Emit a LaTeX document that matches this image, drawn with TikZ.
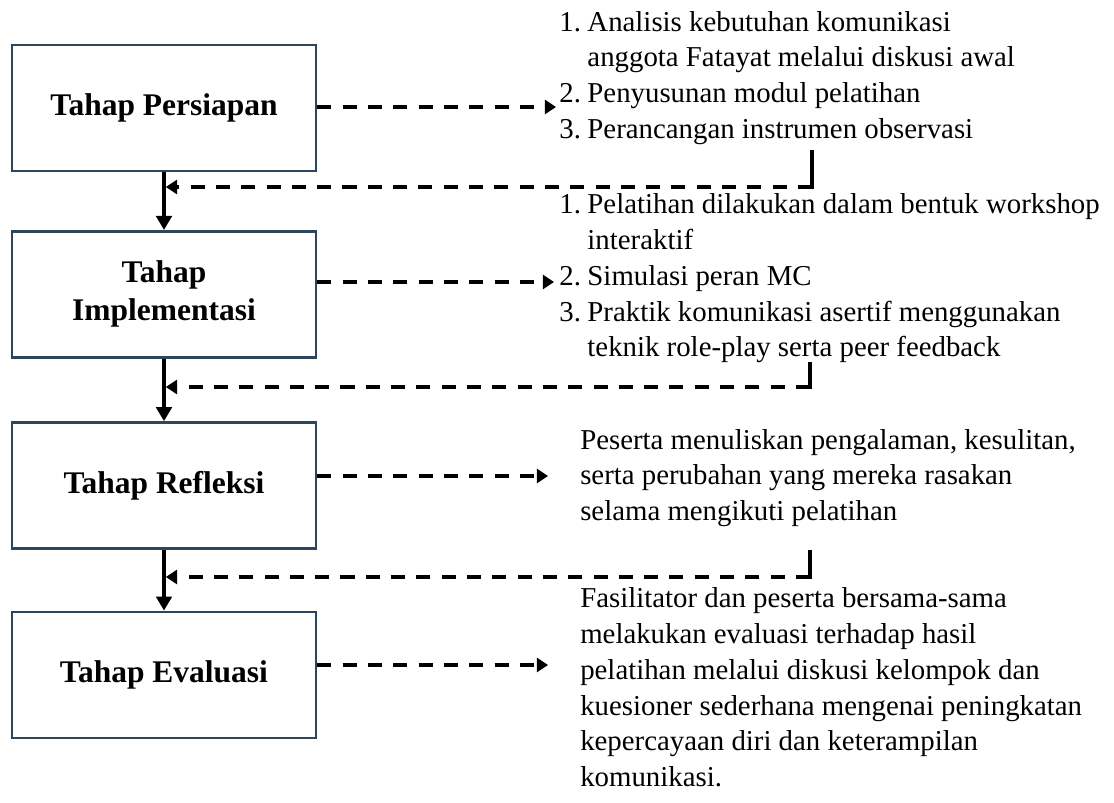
\documentclass[tikz,border=0pt]{standalone}
\usepackage{fontspec}
\setmainfont{Liberation Serif}
\usetikzlibrary{arrows.meta}
\definecolor{boxblue}{RGB}{44,70,94}

\begin{document}
\begin{tikzpicture}[
  tahap/.style={draw=boxblue, line width=2pt, fill=white, minimum width=7.6cm, minimum height=3.15cm, align=center, font=\fontsize{22.4}{27}\selectfont\bfseries},
  isi/.style={inner sep=0pt, anchor=base west, font=\fontsize{20.5}{25.4}\selectfont},
  alur/.style={line width=2.6pt, -{Triangle[width=11pt,length=10pt]}},
  putus/.style={line width=2.6pt, dash pattern=on 10pt off 8pt, -{Triangle[width=10pt,length=8pt]}},
]
\useasboundingbox (0,0) rectangle (27.85,-20.075);
% tahap
\node[tahap] (b1) at (4.1,-2.7) {Tahap Persiapan};
\node[tahap] (b2) at (4.1,-7.36) {Tahap\\Implementasi};
\node[tahap] (b3) at (4.1,-12.14) {Tahap Refleksi};
\node[tahap] (b4) at (4.1,-16.875) {Tahap Evaluasi};
% isi kegiatan
\node[isi] (t1) at (13.98,-0.78) {\begin{tabular}[t]{@{}p{0.7cm}@{}l@{}}
1. & Analisis kebutuhan komunikasi\\
   & anggota Fatayat melalui diskusi awal\\
2. & Penyusunan modul pelatihan\\
3. & Perancangan instrumen observasi
\end{tabular}};
\node[isi] (t2) at (13.98,-5.35) {\begin{tabular}[t]{@{}p{0.7cm}@{}l@{}}
1. & Pelatihan dilakukan dalam bentuk workshop\\
   & interaktif\\
2. & Simulasi peran MC\\
3. & Praktik komunikasi asertif menggunakan\\
   & teknik role-play serta peer feedback
\end{tabular}};
\node[isi] (t3) at (14.5,-11.23) {\begin{tabular}[t]{@{}l@{}}
Peserta menuliskan pengalaman, kesulitan,\\
serta perubahan yang mereka rasakan\\
selama mengikuti pelatihan
\end{tabular}};
\node[isi] (t4) at (14.5,-15.2) {\begin{tabular}[t]{@{}l@{}}
Fasilitator dan peserta bersama-sama\\
melakukan evaluasi terhadap hasil\\
pelatihan melalui diskusi kelompok dan\\
kuesioner sederhana mengenai peningkatan\\
kepercayaan diri dan keterampilan\\
komunikasi.
\end{tabular}};
% ujung panah
\coordinate (e1) at (13.9,-2.675);
\coordinate (e2) at (13.85,-7.05);
\coordinate (e3) at (13.7,-11.9);
\coordinate (e4) at (13.7,-16.625);
\coordinate (r1) at (20.3,-3.8);
\coordinate (k1) at (20.3,-4.675);
\coordinate (r2) at (20.25,-9.1);
\coordinate (k2) at (20.25,-9.675);
\coordinate (r3) at (20.25,-13.8);
\coordinate (k3) at (20.25,-14.425);
% alur utama
\draw[alur] (b1.south) -- (b2.north);
\draw[alur] (b2.south) -- (b3.north);
\draw[alur] (b3.south) -- (b4.north);
% ke kegiatan
\draw[putus] (b1.east |- e1) -- (e1);
\draw[putus] (b2.east |- e2) -- (e2);
\draw[putus] (b3.east |- e3) -- (e3);
\draw[putus] (b4.east |- e4) -- (e4);
% umpan balik
\draw[line width=2.6pt, line cap=rect] (r1) -- (k1);
\draw[putus, shorten >=1.3pt] (k1) -- (k1 -| b1.south);
\draw[line width=2.6pt, line cap=rect] (r2) -- (k2);
\draw[putus, shorten >=1.3pt] (k2) -- (k2 -| b2.south);
\draw[line width=2.6pt, line cap=rect] (r3) -- (k3);
\draw[putus, shorten >=1.3pt] (k3) -- (k3 -| b3.south);
\end{tikzpicture}
\end{document}
